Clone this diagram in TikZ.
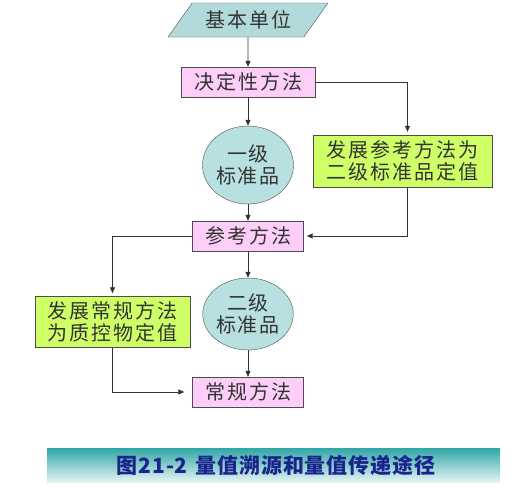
\documentclass[tikz,border=0pt]{standalone}
\usepackage{fontspec}
\usepackage{tikz}
\usetikzlibrary{positioning,arrows.meta,shapes.geometric}
\newfontfamily\cjk{Noto Sans CJK SC}[LetterSpace=10]
\newfontfamily\capfont{Noto Sans CJK SC}[LetterSpace=4]
\definecolor{unitfill}{RGB}{178,218,218}
\definecolor{methfill}{RGB}{252,206,248}
\definecolor{devfill}{RGB}{206,255,102}
\definecolor{stdfill}{RGB}{184,224,224}
\definecolor{captop}{RGB}{48,166,166}
\definecolor{capbot}{RGB}{228,244,244}
\definecolor{captext}{RGB}{26,36,140}

\begin{document}
\begin{tikzpicture}[
  x=1pt, y=-1pt,
  every node/.style={font=\cjk\fontsize{20}{22}\selectfont, text=black!80},
  unitbox/.style={draw=black!70, fill=unitfill, trapezium, trapezium left angle=45,
    trapezium right angle=135, trapezium stretches=true,
    minimum width=160pt, minimum height=34pt, inner sep=0pt},
  meth/.style={draw=black!70, fill=methfill, minimum height=30pt, inner sep=0pt},
  dev/.style={draw=black!70, fill=devfill, align=center, inner sep=0pt},
  std/.style={draw=black!70, fill=stdfill, ellipse, align=center, inner sep=0pt},
  arrow/.style={-{Triangle[length=6pt,width=5pt]}, line width=0.8pt, draw=black!80},
  elbow/.style={arrow, shorten >=3pt}
]
\useasboundingbox (0,0) rectangle (531,488);

\node[unitbox] (unit) at (248,20) {基本单位};
\node[meth, minimum width=134pt] (det) at (248,82) {决定性方法};
\node[std, minimum width=91pt, minimum height=78pt] (std1) at (248,165) {一级\\标准品};
\node[dev, minimum width=179pt, minimum height=52pt] (dev1) at (402.5,161) {发展参考方法为\\二级标准品定值};
\node[meth, minimum width=111pt] (ref) at (248,236) {参考方法};
\node[std, minimum width=86pt, minimum height=72pt] (std2) at (248,314) {二级\\标准品};
\node[dev, minimum width=155pt, minimum height=51pt] (dev2) at (112.5,322) {发展常规方法\\为质控物定值};
\node[meth, minimum width=111pt] (conv) at (248,392) {常规方法};

% caption bar
\shade[top color=captop, bottom color=capbot] (47,448) rectangle (500,482);
\node[font=\capfont\bfseries\fontsize{21}{24}\selectfont, text=captext] (cap) at (276,465) {图21-2\hspace{8pt}量值溯源和量值传递途径};

\draw[arrow] (unit) -- (det);
\draw[arrow] (det) -- (std1);
\draw[elbow] (det.east) -| ([xshift=5pt]dev1.north);
\draw[arrow] (std1) -- (ref);
\draw[elbow] ([xshift=5pt]dev1.south) |- (ref.east);
\draw[elbow] (ref.west) -| (dev2.north);
\draw[arrow] (ref) -- (std2);
\draw[arrow] (std2) -- (conv);
\draw[elbow, shorten >=8pt] (dev2.south) |- (conv.west);
\end{tikzpicture}
\end{document}
